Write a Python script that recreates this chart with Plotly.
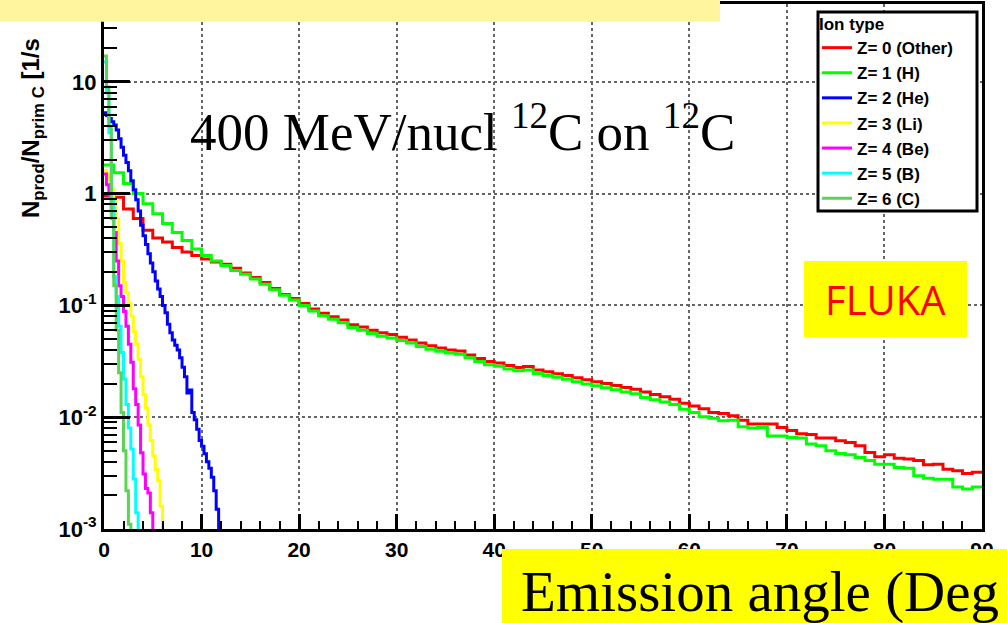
import numpy as np
import plotly.graph_objects as go

# ---------------- data ----------------
series_names = ["Z= 0 (Other)", "Z= 1 (H)", "Z= 2 (He)", "Z= 3 (Li)",
                "Z= 4 (Be)", "Z= 5 (B)", "Z= 6 (C)"]
series_colors = ["#FF0000", "#00FF00", "#0000FF", "#FFFF00",
                 "#FF00FF", "#00FFFF", "#59D454"]

coarse_bin = 1.0    # degrees (Z=0, Z=1)
fine_bin = 0.25     # degrees (Z>=2)

z0_other = [0.95, 0.93, 0.73, 0.60, 0.47, 0.40, 0.37, 0.33, 0.30, 0.28,
            0.26, 0.245, 0.233, 0.215, 0.195, 0.178, 0.16, 0.142, 0.125, 0.115,
            0.104, 0.093, 0.085, 0.079, 0.074, 0.067, 0.064, 0.060, 0.057, 0.055,
            0.052, 0.049, 0.046, 0.0435, 0.0415, 0.040, 0.039, 0.036, 0.0335, 0.0315,
            0.0305, 0.029, 0.0278, 0.0284, 0.0265, 0.0255, 0.0245, 0.0236, 0.0225, 0.0216,
            0.0208, 0.0200, 0.0192, 0.0184, 0.0178, 0.0168, 0.0160, 0.0152, 0.0145, 0.0133,
            0.0126, 0.0119, 0.0110, 0.0108, 0.0103, 0.0094, 0.0087, 0.0087, 0.0087, 0.0081,
            0.0076, 0.0071, 0.0070, 0.0065, 0.0065, 0.00615, 0.00594, 0.00555, 0.00484, 0.00443,
            0.00462, 0.0043, 0.00422, 0.0041, 0.00375, 0.0038, 0.00343, 0.00332, 0.00314, 0.00321]

z1_H = [1.8, 1.54, 1.23, 1.0, 0.81, 0.66, 0.54, 0.45, 0.38, 0.32,
        0.28, 0.25, 0.228, 0.205, 0.19, 0.172, 0.155, 0.138, 0.123, 0.112,
        0.100, 0.089, 0.081, 0.075, 0.070, 0.0635, 0.060, 0.056, 0.053, 0.051,
        0.0485, 0.046, 0.043, 0.0405, 0.0388, 0.0375, 0.0365, 0.034, 0.0315, 0.0295,
        0.0285, 0.027, 0.026, 0.0265, 0.0246, 0.0236, 0.0228, 0.0218, 0.0208, 0.0198,
        0.0191, 0.0183, 0.0176, 0.0168, 0.0162, 0.0150, 0.0143, 0.0137, 0.0130, 0.0118,
        0.0110, 0.0101, 0.0098, 0.0093, 0.0094, 0.0082, 0.0080, 0.0081, 0.0068, 0.0068,
        0.0066, 0.0065, 0.00575, 0.00555, 0.0050, 0.00474, 0.00462, 0.00436, 0.0041, 0.0038,
        0.0038, 0.00355, 0.0035, 0.0030, 0.00285, 0.00279, 0.00279, 0.00238, 0.00228, 0.00238]

z2_He = [5.3, 5.0, 4.7, 4.4, 4.1, 3.7, 3.1, 2.6, 2.2, 1.9,
         1.6, 1.3, 1.08, 0.88, 0.70, 0.52, 0.42, 0.35, 0.29, 0.24,
         0.20, 0.165, 0.14, 0.12, 0.10, 0.086, 0.068, 0.057, 0.049, 0.044,
         0.040, 0.034, 0.028, 0.023, 0.0165, 0.0175, 0.011, 0.0095, 0.0078, 0.0062,
         0.0055, 0.0047, 0.0040, 0.0035, 0.0029, 0.0022, 0.0015, 0.0009]

z3_Li = [1.6, 1.5, 1.3, 1.1, 0.85, 0.6, 0.36, 0.25, 0.16, 0.13,
         0.105, 0.08, 0.058, 0.045, 0.033, 0.023, 0.016, 0.012, 0.0085, 0.0062,
         0.0045, 0.0034, 0.0027, 0.0016, 0.0008]

z4_Be = [1.5, 1.2, 0.95, 0.7, 0.45, 0.25, 0.15, 0.12, 0.088, 0.065,
         0.045, 0.031, 0.018, 0.013, 0.0085, 0.0048, 0.0031, 0.0023, 0.0021, 0.0014,
         0.0008]

z5_B = [15.0, 8.0, 3.5, 0.9, 0.18, 0.12, 0.065, 0.038, 0.022, 0.013,
        0.0080, 0.0052, 0.0028, 0.0014, 0.0007]

z6_C = [17.0, 9.0, 4.0, 0.6, 0.15, 0.06, 0.025, 0.011, 0.005, 0.0022,
        0.0011, 0.0006]

x_ticks = [0, 10, 20, 30, 40, 50, 60, 70, 80, 90]
y_ticks = [0.001, 0.01, 0.1, 1, 10]
y_tick_text = ["10<sup>-3</sup>", "10<sup>-2</sup>", "10<sup>-1</sup>", "1", "10"]

series_values = [z0_other, z1_H, z2_He, z3_Li, z4_Be, z5_B, z6_C]
series_bins = [coarse_bin, coarse_bin, fine_bin, fine_bin, fine_bin, fine_bin, fine_bin]

# ---------------- figure ----------------
W, H = 1007, 623
L, R, T, B = 104, 25, 4, 94
PW, PH = W - L - R, H - T - B


def px(xp):
    return (xp - L) / PW


def py(yp):
    return 1 - (yp - T) / PH


fig = go.Figure()
for name, color, vals, bw in zip(series_names, series_colors, series_values, series_bins):
    edges = np.arange(len(vals) + 1) * bw
    yv = list(vals) + [vals[-1]]
    fig.add_trace(go.Scatter(
        x=edges, y=yv, mode="lines", name=name, legendgroup=name,
        line=dict(color=color, width=3, shape="hv"),
    ))

axis_font = dict(family="Liberation Sans, Arial, sans-serif", size=21, color="black", weight="bold")

minor_y = [k * 10.0 ** e for e in range(-3, 2) for k in range(2, 10) if k * 10.0 ** e < 48]

fig.update_xaxes(
    range=[0, 90], tickmode="array", tickvals=x_ticks,
    ticks="inside", ticklen=15, tickwidth=2.5, tickcolor="black",
    showline=True, linecolor="black", linewidth=3, mirror=True,
    showgrid=True, gridcolor="#666666", griddash="dot", gridwidth=1.5,
    zeroline=False, tickfont=axis_font,
    minor=dict(dtick=2, tick0=0, ticks="inside", ticklen=8, tickwidth=2, tickcolor="black", showgrid=False),
)
fig.update_yaxes(
    type="log", range=[-3, 1.696], tickmode="array", tickvals=y_ticks, ticktext=y_tick_text,
    ticks="inside", ticklen=26, tickwidth=2.5, tickcolor="black",
    showline=True, linecolor="black", linewidth=3, mirror=True,
    showgrid=True, gridcolor="#666666", griddash="dot", gridwidth=1.5,
    zeroline=False, tickfont=dict(family="Liberation Sans, Arial, sans-serif", size=22,
                                  color="black", weight="bold"),
    minor=dict(tickmode="array", tickvals=minor_y, ticks="inside", ticklen=13, tickwidth=2,
               tickcolor="black", showgrid=False),
)

shapes = [
    # pale yellow band top-left
    dict(type="rect", xref="paper", yref="paper", x0=px(0), x1=px(720), y0=py(21.7), y1=py(0),
         fillcolor="#FFF59E", line=dict(width=0), layer="above"),
    # FLUKA box
    dict(type="rect", xref="paper", yref="paper", x0=px(804), x1=px(967), y0=py(337), y1=py(261),
         fillcolor="#FFFF00", line=dict(width=0), layer="above"),
    # bottom yellow box
    dict(type="rect", xref="paper", yref="paper", x0=px(502), x1=px(W), y0=py(H), y1=py(549),
         fillcolor="#FFFF00", line=dict(width=0), layer="above"),
    # legend frame
    dict(type="rect", xref="paper", yref="paper", x0=px(818), x1=px(977), y0=py(211), y1=py(12),
         fillcolor="white", line=dict(width=3, color="black"), layer="above"),
]

annotations = [
    dict(text="400 MeV/nucl <sup>12</sup>C on <sup>12</sup>C", xref="paper", yref="paper",
         x=px(462), y=py(128), xanchor="center", yanchor="middle", showarrow=False,
         font=dict(family="Liberation Serif, Times New Roman, serif", size=53, color="black")),
    dict(text="FLUKA", xref="paper", yref="paper", x=px(885), y=py(299), xanchor="center",
         yanchor="middle", showarrow=False,
         font=dict(family="Open Sans, Noto Sans, sans-serif", size=40, color="#FF0000")),
    dict(text="Emission angle (Deg", xref="paper", yref="paper", x=px(519), y=py(592),
         xanchor="left", yanchor="middle", showarrow=False,
         font=dict(family="Liberation Serif, Times New Roman, serif", size=57, color="black")),
    dict(text="N<sub>prod</sub>/N<sub>prim C</sub> [1/s", xref="paper", yref="paper",
         x=px(33), y=py(128), xanchor="center", yanchor="middle", textangle=-90, showarrow=False,
         font=dict(family="Liberation Sans, Arial, sans-serif", size=24, color="black", weight="bold")),
]

fig.update_layout(
    width=W, height=H, margin=dict(l=L, r=R, t=T, b=B, autoexpand=False),
    paper_bgcolor="white", plot_bgcolor="white",
    shapes=shapes, annotations=annotations,
    showlegend=True,
    legend=dict(
        x=px(817), y=py(8), xanchor="left", yanchor="top",
        bgcolor="rgba(0,0,0,0)", borderwidth=0,
        font=dict(family="Liberation Sans, Arial, sans-serif", size=17, color="black", weight="bold"),
        title=dict(text="Ion type", font=dict(family="Liberation Sans, Arial, sans-serif", size=17,
                                              color="black", weight="bold")),
        tracegroupgap=0, itemwidth=30, traceorder="grouped",
    ),
)

fig.write_html("out.html")
